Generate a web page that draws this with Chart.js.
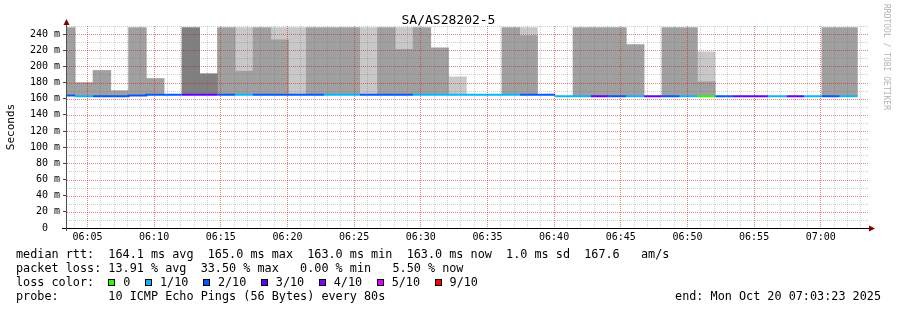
<!DOCTYPE html>
<html>
<head>
<meta charset="utf-8">
<script src="https://cdn.jsdelivr.net/npm/chart.js@4.4.1/dist/chart.umd.min.js"></script>
<style>
  html, body { margin: 0; padding: 0; background: #fff; }
  #wrap { position: relative; width: 897px; height: 310px; overflow: hidden;
          font-family: 'DejaVu Sans Mono', monospace; color: #000; }
  #chart { position: absolute; left: 0; top: 0; }
  .title { position: absolute; left: 0; top: 12px; width: 897px; text-align: center;
           font-size: 13px; line-height: 15px; }
  .rrdtag { position: absolute; left: 882px; top: 4px; writing-mode: vertical-rl;
            font-size: 8px; line-height: 9px; color: #b4b4b4; }
  .row { position: absolute; left: 16px; font-size: 11.8px; line-height: 14px; white-space: pre; }
  .box { display: inline-block; width: 5px; height: 5px; border: 1px solid #000; margin-right: 8px; }
  .lbl { margin-right: 14.5px; }
  .end { position: absolute; right: 16px; top: 289px; font-size: 11.8px; line-height: 14px; white-space: pre; }
</style>
</head>
<body>
<div id="wrap">
  <canvas id="chart" width="897" height="310"></canvas>
  <div class="title">SA/AS28202-5</div>
  <div class="rrdtag">RRDTOOL / TOBI OETIKER</div>
  <div class="row" style="top:247px">median rtt:  164.1 ms avg  165.0 ms max  163.0 ms min  163.0 ms now  1.0 ms sd  167.6   am/s</div>
  <div class="row" style="top:261px">packet loss: 13.91 % avg  33.50 % max   0.00 % min   5.50 % now</div>
  <div class="row" id="lossRow" style="top:275px">loss color:  </div>
  <div class="row" style="top:289px">probe:       10 ICMP Echo Pings (56 Bytes) every 80s</div>
  <div class="end">end: Mon Oct 20 07:03:23 2025</div>
</div>
<script>
// RRD samples every 80 s, first one ends 06:04:05 (last one 07:02:45)
const sampleStep = 80;
const firstSampleEnd = '06:04:05';
const viewStart = '06:03:28';
const viewEnd = '07:03:28';

// median rtt per sample (ms)
const medianRtt = [164, 163, 163, 163, 164, 165, 165, 165, 165, 165,
                   165, 165, 165, 165, 165, 165, 165, 165, 165, 165,
                   165, 165, 165, 165, 165, 165, 165, 165, 163, 163,
                   163, 163, 163, 163, 163, 163, 163, 163, 163, 163,
                   163, 163, 163, 163, 163];
// lost pings out of 10 per sample
const lossTenths = [2, 1, 2, 2, 2, 2, 2, 3, 3, 2,
                    1, 2, 2, 2, 2, 1, 1, 2, 2, 2,
                    1, 1, 1, 1, 1, 1, 2, 2, 1, 1,
                    3, 2, 1, 3, 2, 1, 0, 2, 3, 3,
                    1, 3, 1, 2, 1];
// smoke tops (ms), 248 = runs off the top of the graph
const smokeLight = [null, null, null, null, null, null, null, null, null, null,
                    248, null, 248, 248, null, null, null, 248, null, 248,
                    null, null, 187, null, null, null, 248, null, null, null,
                    null, null, null, null, null, null, 218, null, null, null,
                    null, null, null, null, null];
const smokeMid = [248, 180, 195, 170, 248, 185, null, null, null, 248,
                  194, 248, 233, null, 248, 248, 248, null, 248, 221,
                  248, 223, null, null, null, 248, 238, null, null, 248,
                  248, 248, 227, null, 248, 248, 181, null, null, null,
                  null, null, null, 248, 248];
const smokeDark = [null, null, null, null, null, null, null, 248, 191, null,
                   null, null, null, null, null, null, null, null, null, null,
                   null, null, null, null, null, null, null, null, null, null,
                   null, null, null, null, null, null, null, null, null, null,
                   null, null, null, null, null];

const lossLabels = ['0', '1/10', '2/10', '3/10', '4/10', '5/10', '9/10'];
const lossColors = ['#26ff00', '#00b8ff', '#0059ff', '#5e00ff', '#7e00ff', '#dd00ff', '#ff0000'];

const xTickLabels = ['06:05', '06:10', '06:15', '06:20', '06:25', '06:30',
                     '06:35', '06:40', '06:45', '06:50', '06:55', '07:00'];
const yTickLabels = ['0', '20 m', '40 m', '60 m', '80 m', '100 m', '120 m',
                     '140 m', '160 m', '180 m', '200 m', '220 m', '240 m'];
const yMax = 250;

// minutes after 06:00
const toMin = s => {
  const [h, m, sec = 0] = s.split(':').map(Number);
  return (h - 6) * 60 + m + sec / 60;
};
const stepMin = sampleStep / 60;
const centers = medianRtt.map((_, i) => toMin(firstSampleEnd) + i * stepMin - stepMin / 2);

const minorGrid = 'rgba(110, 110, 110, 0.32)';
const majorGrid = 'rgba(230, 0, 0, 0.5)';
const font10 = { family: 'DejaVu Sans Mono', size: 10 };

function smokeSet(tops, color, order) {
  return {
    type: 'bar',
    data: tops.map((v, i) => ({ x: centers[i], y: v == null ? null : [medianRtt[i], v] })),
    backgroundColor: color,
    borderWidth: 0,
    grouped: false,
    barPercentage: 1,
    categoryPercentage: 1,
    order: order,
  };
}

function medianSet(level) {
  const pts = [];
  medianRtt.forEach((v, i) => {
    if (lossTenths[i] === level) {
      pts.push({ x: centers[i] - stepMin / 2, y: v }, { x: centers[i] + stepMin / 2, y: v });
    } else {
      pts.push({ x: centers[i], y: null });
    }
  });
  return {
    type: 'line',
    data: pts,
    borderColor: lossColors[lossLabels.indexOf(level === 0 ? '0' : level + '/10')],
    borderWidth: 2,
    pointRadius: 0,
    fill: false,
    spanGaps: false,
    tension: 0,
    clip: 0,
    order: 0,
  };
}

const datasets = [0, 1, 2, 3, 4, 5, 9].map(medianSet)
  .concat([
    smokeSet(smokeDark, '#808080', 1),
    smokeSet(smokeMid, '#a0a0a0', 2),
    smokeSet(smokeLight, '#c8c8c8', 3),
  ]);

const xMajor = xTickLabels.map(toMin);
const xMinor = [];
for (let m = Math.ceil(toMin(viewStart)); m <= toMin(viewEnd); m++) {
  if (!xMajor.includes(m)) xMinor.push(m);
}
const yGrid = [];
for (let v = 0; v <= yMax; v += 10) yGrid.push(v);

// rrdtool style dotted grid, painted over the smoke
const dottedGrid = {
  id: 'dottedGrid',
  afterDatasetsDraw(chart) {
    const { ctx, chartArea: a, scales } = chart;
    const top = Math.round(a.top), bottom = Math.round(a.bottom);
    const left = Math.round(a.left), right = Math.round(a.right);
    const vline = (v, color) => {
      const col = Math.floor(scales.x.getPixelForValue(v));
      ctx.fillStyle = color;
      for (let y = top; y < bottom; y += 2) ctx.fillRect(col, y, 1, 1);
    };
    const hline = (v, color) => {
      const row = Math.round(scales.y.getPixelForValue(v));
      if (row >= bottom) return;
      ctx.fillStyle = color;
      for (let x = left; x < right + 2; x += 2) ctx.fillRect(x, row, 1, 1);
    };
    ctx.save();
    xMinor.forEach(v => vline(v, minorGrid));
    yGrid.filter(v => v % 20 !== 0).forEach(v => hline(v, minorGrid));
    xMajor.forEach(v => vline(v, majorGrid));
    yGrid.filter(v => v % 20 === 0).forEach(v => hline(v, majorGrid));
    ctx.restore();
  }
};

// axis lines with the little red arrows
const axisArrows = {
  id: 'axisArrows',
  afterDraw(chart) {
    const { ctx, chartArea: a } = chart;
    const yb = Math.round(a.bottom) + 0.5;
    const xl = Math.round(a.left) - 0.5;
    ctx.save();
    ctx.lineWidth = 1;
    ctx.strokeStyle = '#000';
    ctx.beginPath();
    ctx.moveTo(a.left - 5, yb);
    ctx.lineTo(a.right + 3, yb);
    ctx.stroke();
    ctx.strokeStyle = '#505050';
    ctx.beginPath();
    ctx.moveTo(xl, a.bottom + 3);
    ctx.lineTo(xl, a.top - 2);
    ctx.stroke();
    ctx.fillStyle = '#7f0000';
    ctx.beginPath();
    ctx.moveTo(xl - 3, a.top - 1);
    ctx.lineTo(xl + 3, a.top - 1);
    ctx.lineTo(xl, a.top - 7);
    ctx.closePath();
    ctx.fill();
    ctx.beginPath();
    ctx.moveTo(a.right + 2, yb - 3);
    ctx.lineTo(a.right + 2, yb + 3);
    ctx.lineTo(a.right + 8, yb);
    ctx.closePath();
    ctx.fill();
    ctx.restore();
  }
};

new Chart(document.getElementById('chart'), {
  type: 'bar',
  data: { datasets },
  plugins: [dottedGrid, axisArrows],
  options: {
    responsive: false,
    animation: false,
    devicePixelRatio: 1,
    layout: { padding: { top: 26, right: 30, left: 0, bottom: 0 } },
    plugins: { legend: { display: false }, tooltip: { enabled: false }, title: { display: false } },
    scales: {
      x: {
        type: 'linear',
        position: 'bottom',
        min: toMin(viewStart),
        max: toMin(viewEnd),
        offset: false,
        afterBuildTicks: axis => { axis.ticks = xMajor.map(v => ({ value: v })); },
        afterFit: axis => { axis.height = 82; },
        ticks: {
          autoSkip: false,
          maxRotation: 0,
          padding: 3,
          color: '#000',
          font: font10,
          callback: v => xTickLabels[xMajor.indexOf(v)] || '',
        },
        grid: { display: false, drawTicks: false, offset: false },
        border: { display: false },
      },
      y: {
        type: 'linear',
        position: 'left',
        min: 0,
        max: yMax,
        afterBuildTicks: axis => { axis.ticks = yGrid.map(v => ({ value: v })); },
        afterFit: axis => { axis.width = 67; },
        ticks: {
          autoSkip: false,
          padding: 3,
          color: '#000',
          font: font10,
          callback: v => {
            const label = v % 20 === 0 ? yTickLabels[v / 20] : undefined;
            if (!label) return '';
            return label.includes(' ') ? label : label + '  ';
          },
        },
        grid: {
          drawOnChartArea: false,
          tickColor: c => (c.tick && c.tick.value % 20 === 0 ? '#404040' : 'rgba(0,0,0,0)'),
          tickLength: 4,
        },
        border: { display: false },
        title: {
          display: true,
          text: 'Seconds',
          color: '#000',
          font: { family: 'DejaVu Sans Mono', size: 11 },
          padding: { top: 4.4, bottom: 0 },
        },
      },
    },
  },
});

// loss colour legend row
const lossRow = document.getElementById('lossRow');
lossLabels.forEach((label, i) => {
  const box = document.createElement('span');
  box.className = 'box';
  box.style.background = lossColors[i];
  const txt = document.createElement('span');
  txt.className = 'lbl';
  txt.textContent = label;
  lossRow.appendChild(box);
  lossRow.appendChild(txt);
});
</script>
</body>
</html>
